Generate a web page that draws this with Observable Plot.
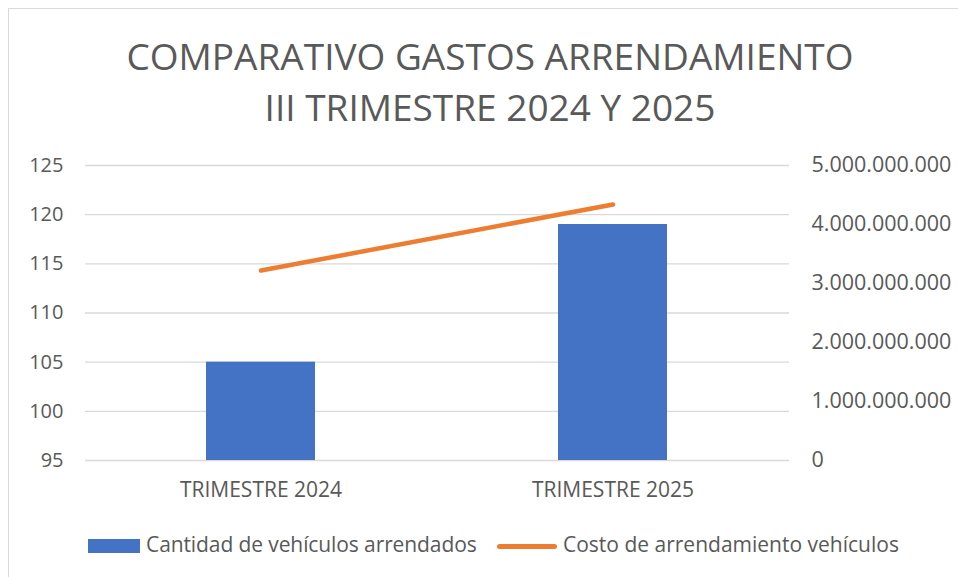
<!DOCTYPE html>
<html>
<head>
<meta charset="utf-8">
<script src="https://cdn.jsdelivr.net/npm/d3@7"></script>
<script src="https://cdn.jsdelivr.net/npm/@observablehq/plot@0.6"></script>
<style>
  html, body { margin: 0; padding: 0; background: #fff; }
  #wrap { position: relative; width: 958px; height: 577px; overflow: hidden; font-family: "Open Sans", sans-serif; color: #595959; }
  #frame { position: absolute; left: 8px; top: 8px; width: 1000px; height: 1000px; border: 1px solid #D9D9D9; box-sizing: border-box; }
  #chart { position: absolute; left: 0; top: 0; }
  #title { position: absolute; left: 0; width: 980px; top: 30px; text-align: center; font-size: 37px; line-height: 51px; color: #595959; }
  .leg { position: absolute; font-size: 21px; line-height: 21px; white-space: nowrap; color: #595959; }
</style>
</head>
<body>
<div id="wrap">
  <div id="frame"></div>
  <div id="chart"></div>
  <div id="title">COMPARATIVO GASTOS ARRENDAMIENTO<br>III TRIMESTRE 2024 Y 2025</div>
  <div style="position:absolute;left:88px;top:539px;width:52px;height:14px;background:#4472C4"></div>
  <div class="leg" style="left:146px;top:534px;letter-spacing:-0.1px">Cantidad de vehículos arrendados</div>
  <div style="position:absolute;left:497px;top:543.5px;width:60px;height:5px;border-radius:3px;background:#ED7D31"></div>
  <div class="leg" style="left:563px;top:534px">Costo de arrendamiento vehículos</div>
</div>
<script>
const categories = ["TRIMESTRE 2024", "TRIMESTRE 2025"];
const vehiculos = [105, 119];
const costo = [3220000000, 4340000000];
const leftTicks = [95, 100, 105, 110, 115, 120, 125];
const rightTicks = [0, 1000000000, 2000000000, 3000000000, 4000000000, 5000000000];

const leftMin = 95, leftMax = 125, rightMax = 5000000000;
const toLeft = v => leftMin + v / rightMax * (leftMax - leftMin);
const fromLeft = y => (y - leftMin) / (leftMax - leftMin) * rightMax;

const data = categories.map((c, i) => ({cat: c, veh: vehiculos[i], cost: costo[i]}));
const fmt = d3.formatLocale({decimal: ",", thousands: ".", grouping: [3], currency: ["", ""]}).format(",.0f");

const chart = Plot.plot({
  width: 958,
  height: 577,
  marginTop: 165,
  marginBottom: 117,
  marginLeft: 85,
  marginRight: 169,
  style: {fontFamily: "Open Sans, sans-serif", color: "#595959", background: "transparent", overflow: "visible"},
  x: {domain: categories, paddingInner: 0.69, paddingOuter: 0.345, axis: null, label: null},
  y: {domain: [leftMin, leftMax], axis: null, label: null},
  marks: [
    Plot.ruleY(leftTicks, {stroke: "#D9D9D9", strokeWidth: 1.3, strokeOpacity: 1}),
    Plot.barY(data, {x: "cat", y1: leftMin, y2: "veh", fill: "#4472C4"}),
    Plot.line(data, {x: "cat", y: d => toLeft(d.cost), stroke: "#ED7D31", strokeWidth: 4.5, strokeLinecap: "round"}),
    Plot.axisY({ticks: leftTicks, anchor: "left", label: null, tickSize: 0, tickPadding: 22, fontSize: 20, fill: "#595959", tickFormat: d => String(d)}),
    Plot.axisY({ticks: rightTicks.map(toLeft), anchor: "right", label: null, tickSize: 0, tickPadding: 22, fontSize: 21.5, fill: "#595959", tickFormat: y => fmt(Math.round(fromLeft(y)))}),
    Plot.axisX({anchor: "bottom", label: null, tickSize: 0, tickPadding: 22, fontSize: 21, fill: "#595959"})
  ]
});
document.getElementById("chart").appendChild(chart);
</script>
</body>
</html>
